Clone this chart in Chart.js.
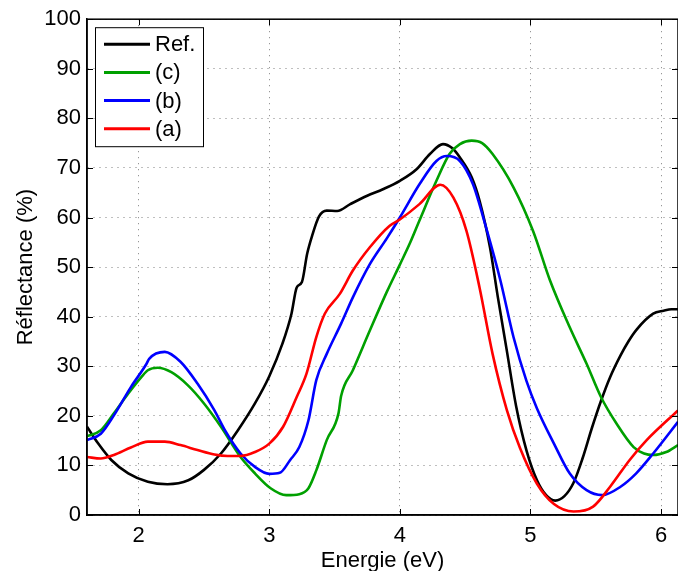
<!DOCTYPE html>
<html>
<head>
<meta charset="utf-8">
<script src="https://cdn.jsdelivr.net/npm/chart.js@4.4.0/dist/chart.umd.min.js"></script>
<style>
html,body{margin:0;padding:0;background:#fff;}
#wrap{width:678px;height:571px;position:relative;}
</style>
</head>
<body>
<div id="wrap"><canvas id="c" width="678" height="571"></canvas></div>
<script>
// ---- data ----
const seriesNames = ['Ref.', '(c)', '(b)', '(a)'];
const seriesColors = ['#000000', '#00a000', '#0000ff', '#ff0000'];

const refX = [1.604, 1.69, 1.79, 1.92, 2.07, 2.22, 2.38, 2.50, 2.63, 2.76, 2.89, 3.00, 3.10, 3.17, 3.21, 3.25, 3.29, 3.33, 3.38, 3.44, 3.52, 3.62, 3.75, 3.87, 4.00, 4.13, 4.23, 4.33, 4.40, 4.46, 4.55, 4.61, 4.69, 4.75, 4.82, 4.89, 4.97, 5.05, 5.12, 5.19, 5.26, 5.33, 5.40, 5.47, 5.54, 5.61, 5.69, 5.75, 5.81, 5.94, 6.02, 6.08, 6.13];
const refY = [17.8, 14.4, 11.1, 8.4, 6.7, 6.2, 7.0, 9.1, 12.4, 17.1, 22.5, 28.0, 34.5, 40.6, 45.9, 47.0, 52.7, 56.5, 60.2, 61.4, 61.3, 62.7, 64.4, 65.7, 67.4, 69.8, 72.8, 74.8, 74.0, 72.1, 68.1, 63.4, 54.0, 44.0, 33.0, 22.0, 13.0, 7.0, 4.0, 2.9, 3.8, 6.5, 11.5, 17.5, 23.0, 27.8, 32.2, 35.0, 37.3, 40.6, 41.2, 41.5, 41.5];

const cX = [1.604, 1.71, 1.81, 1.92, 2.02, 2.07, 2.146, 2.25, 2.375, 2.50, 2.63, 2.78, 2.89, 3.01, 3.13, 3.23, 3.30, 3.36, 3.44, 3.53, 3.55, 3.64, 3.77, 3.90, 4.00, 4.08, 4.15, 4.28, 4.38, 4.46, 4.55, 4.63, 4.71, 4.87, 5.02, 5.15, 5.30, 5.43, 5.54, 5.66, 5.79, 5.87, 5.94, 6.04, 6.13];
const cY = [15.9, 17.1, 20.5, 24.5, 27.8, 29.2, 29.7, 28.8, 26.2, 22.5, 17.8, 11.7, 8.4, 5.4, 4.0, 4.2, 5.4, 9.0, 15.1, 20.5, 24.0, 29.2, 37.2, 45.0, 50.5, 55.0, 59.4, 67.4, 72.8, 74.8, 75.5, 75.0, 72.8, 66.1, 57.3, 47.3, 37.9, 30.5, 23.8, 18.4, 13.7, 12.4, 12.1, 12.7, 14.1];

const bX = [1.604, 1.71, 1.81, 1.94, 2.06, 2.08, 2.20, 2.32, 2.45, 2.58, 2.66, 2.78, 2.89, 3.00, 3.08, 3.16, 3.23, 3.30, 3.36, 3.44, 3.55, 3.64, 3.77, 3.90, 4.00, 4.15, 4.28, 4.36, 4.46, 4.56, 4.66, 4.77, 4.87, 4.97, 5.05, 5.18, 5.30, 5.43, 5.55, 5.69, 5.81, 5.94, 6.13];
const bY = [15.1, 16.4, 20.1, 25.8, 30.5, 31.5, 32.9, 30.9, 26.5, 21.1, 17.1, 12.4, 9.7, 8.3, 8.5, 11.1, 13.7, 19.1, 27.2, 32.5, 38.6, 43.9, 50.6, 55.8, 60.0, 66.7, 71.4, 72.4, 71.4, 66.7, 58.0, 47.3, 35.9, 27.0, 21.5, 14.4, 8.4, 5.0, 4.0, 5.7, 8.4, 12.4, 18.8];

const aX = [1.604, 1.71, 1.81, 1.94, 2.07, 2.20, 2.32, 2.45, 2.58, 2.68, 2.78, 2.89, 3.00, 3.106, 3.21, 3.285, 3.36, 3.425, 3.54, 3.64, 3.77, 3.92, 4.00, 4.15, 4.31, 4.41, 4.51, 4.61, 4.71, 4.82, 4.92, 5.05, 5.18, 5.33, 5.48, 5.61, 5.76, 5.89, 6.13];
const aY = [11.7, 11.4, 12.1, 13.6, 14.8, 14.8, 14.1, 13.1, 12.2, 11.9, 11.9, 12.7, 14.4, 17.8, 23.8, 28.5, 35.9, 40.6, 44.6, 49.3, 54.0, 58.3, 59.6, 62.7, 66.6, 64.0, 57.3, 45.9, 32.5, 21.1, 13.5, 6.3, 2.2, 0.7, 1.7, 5.7, 11.1, 15.1, 21.1];

const xTicks = [2, 3, 4, 5, 6];
const yTicks = [0, 10, 20, 30, 40, 50, 60, 70, 80, 90, 100];
const xTitle = 'Energie (eV)';
const yTitle = 'Réflectance (%)';

// ---- chart ----
const FONT = "'Liberation Sans', Arial, Helvetica, sans-serif";
const pairs = (xs, ys) => xs.map((x, i) => ({x: x, y: ys[i]}));
const allX = [refX, cX, bX, aX];
const allY = [refY, cY, bY, aY];

const datasets = seriesNames.map((name, i) => ({
  label: name,
  data: pairs(allX[i], allY[i]),
  borderColor: seriesColors[i],
  backgroundColor: seriesColors[i],
  borderWidth: 2.6,
  pointRadius: 0,
  fill: false,
  cubicInterpolationMode: 'monotone',
  order: 4 - i
}));

const framePlugin = {
  id: 'frame',
  afterDraw(chart) {
    const {ctx, chartArea: a, scales: {x, y}} = chart;
    ctx.save();
    ctx.strokeStyle = '#000';
    ctx.lineWidth = 1;
    ctx.beginPath();
    xTicks.forEach(v => {
      const px = Math.round(x.getPixelForValue(v)) + 0.5;
      ctx.moveTo(px, a.bottom); ctx.lineTo(px, a.bottom - 6);
      ctx.moveTo(px, a.top); ctx.lineTo(px, a.top + 6);
    });
    yTicks.forEach(v => {
      const py = Math.round(y.getPixelForValue(v)) + 0.5;
      ctx.moveTo(a.left, py); ctx.lineTo(a.left + 6, py);
      ctx.moveTo(a.right, py); ctx.lineTo(a.right - 6, py);
    });
    ctx.stroke();
    ctx.lineWidth = 1.5;
    ctx.strokeRect(a.left, a.top, a.right - a.left, a.bottom - a.top);

    // legend box (MATLAB style, inside the axes)
    const lx = a.left + 8, ly = a.top + 8, lw = 108, lh = 119;
    ctx.fillStyle = '#fff';
    ctx.fillRect(lx, ly, lw, lh);
    ctx.lineWidth = 1;
    ctx.strokeStyle = '#000';
    ctx.strokeRect(lx + 0.5, ly + 0.5, lw, lh);
    ctx.font = '22px ' + FONT;
    ctx.textBaseline = 'middle';
    ctx.textAlign = 'left';
    seriesNames.forEach((name, i) => {
      const yy = ly + 17 + i * 28.2;
      ctx.strokeStyle = seriesColors[i];
      ctx.lineWidth = 3;
      ctx.beginPath();
      ctx.moveTo(lx + 9, yy); ctx.lineTo(lx + 55, yy);
      ctx.stroke();
      ctx.fillStyle = '#000';
      ctx.fillText(name, lx + 60, yy + 1);
    });
    ctx.restore();
  }
};

new Chart(document.getElementById('c'), {
  type: 'line',
  data: {datasets: datasets},
  options: {
    responsive: false,
    animation: false,
    devicePixelRatio: 1,
    layout: {padding: {top: 19, right: 0, left: 0, bottom: 0}},
    plugins: {legend: {display: false}, tooltip: {enabled: false}},
    scales: {
      x: {
        type: 'linear',
        min: 1.604,
        max: 6.13,
        afterBuildTicks: s => { s.ticks = xTicks.map(v => ({value: v})); },
        afterFit: s => { s.height = 56; },
        grid: {color: 'rgba(0,0,0,0.5)', drawTicks: false, lineWidth: 1},
        border: {display: true, color: '#000', width: 1.5, dash: [1, 5]},
        ticks: {color: '#000', font: {size: 22, family: FONT}, padding: 8, maxRotation: 0,
                callback: v => String(v)},
        title: {display: true, text: xTitle, color: '#000', font: {size: 22, family: FONT},
                padding: {top: 0, bottom: -3}}
      },
      y: {
        type: 'linear',
        min: 0,
        max: 100,
        afterBuildTicks: s => { s.ticks = yTicks.map(v => ({value: v})); },
        afterFit: s => { s.width = 87; },
        grid: {color: 'rgba(0,0,0,0.5)', drawTicks: false, lineWidth: 1},
        border: {display: true, color: '#000', width: 1.5, dash: [1, 5]},
        ticks: {color: '#000', font: {size: 22, family: FONT}, padding: 6,
                callback: v => String(v)},
        title: {display: true, text: yTitle, color: '#000', font: {size: 22, family: FONT},
                padding: {top: 13, bottom: 0}}
      }
    }
  },
  plugins: [framePlugin]
});
</script>
</body>
</html>
